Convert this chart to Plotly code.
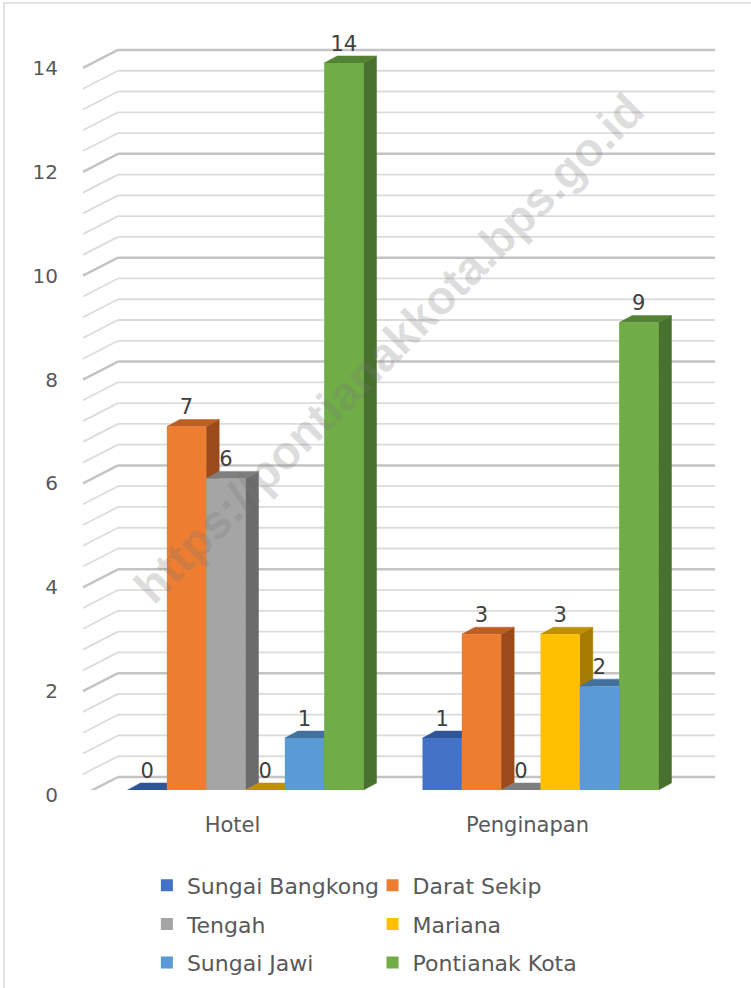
import plotly.graph_objects as go

# ---------------- data ----------------
categories = ["Hotel", "Penginapan"]
series_names = ["Sungai Bangkong", "Darat Sekip", "Tengah", "Mariana", "Sungai Jawi", "Pontianak Kota"]
sungai_bangkong = [0, 1]
darat_sekip = [7, 3]
tengah = [6, 0]
mariana = [0, 3]
sungai_jawi = [1, 2]
pontianak_kota = [14, 9]
series_values = [sungai_bangkong, darat_sekip, tengah, mariana, sungai_jawi, pontianak_kota]
y_ticks = [0, 2, 4, 6, 8, 10, 12, 14]
watermark = "https://pontianakkota.bps.go.id"

# ---------------- styles ----------------
front_colors = ["#4472C4", "#ED7D31", "#A5A5A5", "#FFC000", "#5B9BD5", "#70AD47"]
top_colors = ["#2F5597", "#BD5E22", "#7F7F7F", "#BF9000", "#41719C", "#548235"]
side_colors = ["#2B4D8C", "#9C4A1A", "#6B6B6B", "#A67C00", "#3A6792", "#48712D"]

W, H = 751, 988
ML, MR, MT, MB = 83, 71, 37, 198
PW = W - ML - MR
PH = H - MT - MB
X_RANGE = [-0.551, 1.473]
Y_RANGE = [0, 14.5]
PX_PER_X = PW / (X_RANGE[1] - X_RANGE[0])
PX_PER_Y = PH / (Y_RANGE[1] - Y_RANGE[0])
DX = 13 / PX_PER_X          # depth offset in x units
DY = 7 / PX_PER_Y           # depth offset in y units
BACK_DX = 35 / PW           # back wall shift (paper)
BACK_OFF = 13 / PX_PER_Y    # back wall vertical shift (y units)
FRONT_OFF = 5 / PX_PER_Y    # front floor edge shift (y units)

GROUP_W = 0.8
n = len(series_names)
bw = GROUP_W / n
xcat = list(range(len(categories)))

fig = go.Figure()

# side faces then top faces (base subplot, drawn below fronts)
for face in ("side", "top"):
    for i, vals in enumerate(series_values):
        for c, v in zip(xcat, vals):
            cx = c + (i - (n - 1) / 2) * bw
            xl, xr = cx - bw / 2, cx + bw / 2
            if face == "side":
                xs = [xr, xr + DX, xr + DX, xr, xr]
                ys = [0, DY, v + DY, v, 0]
                col = side_colors[i]
            else:
                xs = [xl, xl + DX, xr + DX, xr, xl]
                ys = [v, v + DY, v + DY, v, v]
                col = top_colors[i]
            fig.add_trace(go.Scatter(
                x=xs, y=ys, mode="lines", fill="toself", fillcolor=col,
                line=dict(width=0.5, color=col), hoverinfo="skip",
                showlegend=False, xaxis="x", yaxis="y"))

# front faces: real bars on overlay subplot
for i, (name, vals) in enumerate(zip(series_names, series_values)):
    fig.add_trace(go.Bar(
        x=xcat, y=vals, name=name, marker=dict(color=front_colors[i], line=dict(width=0)),
        xaxis="x2", yaxis="y2", legend="legend" if i % 2 == 0 else "legend2",
        legendgroup=name))

# value labels
for i, vals in enumerate(series_values):
    cxs = [c + (i - (n - 1) / 2) * bw for c in xcat]
    fig.add_trace(go.Scatter(
        x=cxs, y=[v + DY for v in vals], mode="text", text=[str(v) for v in vals],
        textposition="top center", textfont=dict(size=21, color="#404040", family="DejaVu Sans"),
        showlegend=False, hoverinfo="skip", cliponaxis=False, xaxis="x2", yaxis="y2"))

# gridlines on the back wall + diagonal floor/side edges
shapes = []
k = 0
while k * 0.4 <= 14 + 1e-9:
    v = k * 0.4
    major = (k % 5 == 0)
    col = "#C4C4C4" if major else "#DCDCDC"
    lw = 2.5 if major else 1.8
    shapes.append(dict(type="line", xref="paper", yref="y", x0=BACK_DX, x1=1 + BACK_DX,
                       y0=v + BACK_OFF, y1=v + BACK_OFF, line=dict(color=col, width=lw), layer="below"))
    shapes.append(dict(type="line", xref="paper", yref="y", x0=0, x1=BACK_DX,
                       y0=v - FRONT_OFF, y1=v + BACK_OFF, line=dict(color=col, width=lw), layer="below"))
    k += 1

# outer chart border
shapes.append(dict(type="rect", xref="paper", yref="paper",
                   x0=(4 - ML) / PW, x1=2, y0=-2, y1=(H - MB - 3) / PH,
                   line=dict(color="#D9D9D9", width=1.5), fillcolor="rgba(0,0,0,0)", layer="below"))

font_txt = dict(family="DejaVu Sans", size=22, color="#595959")

fig.update_layout(
    width=W, height=H,
    margin=dict(l=ML, r=MR, t=MT, b=MB, autoexpand=False),
    paper_bgcolor="white", plot_bgcolor="rgba(0,0,0,0)",
    barmode="group", bargap=0.2, bargroupgap=0,
    shapes=shapes,
    xaxis=dict(range=X_RANGE, tickvals=xcat, ticktext=categories, showgrid=False, zeroline=False,
               showline=False, ticks="outside", ticklen=0, ticklabelstandoff=16, ticklabelshift=-13,
               tickfont=dict(family="DejaVu Sans", size=21, color="#595959")),
    yaxis=dict(range=Y_RANGE, tickvals=y_ticks, showgrid=False, zeroline=False, showline=False,
               ticks="outside", ticklen=0, ticklabelstandoff=20, ticklabelshift=5,
               tickfont=dict(family="DejaVu Sans", size=20, color="#595959")),
    xaxis2=dict(range=X_RANGE, overlaying="x", visible=False),
    yaxis2=dict(range=Y_RANGE, overlaying="y", visible=False),
    legend=dict(x=0.107, y=-0.099, xanchor="left", yanchor="top", orientation="v",
                font=font_txt, tracegroupgap=7, bgcolor="rgba(0,0,0,0)"),
    legend2=dict(x=0.485, y=-0.099, xanchor="left", yanchor="top", orientation="v",
                 font=font_txt, tracegroupgap=7, bgcolor="rgba(0,0,0,0)"),
    annotations=[dict(text="<b>" + watermark + "</b>", xref="paper", yref="paper",
                      x=(388 - ML) / PW, y=(H - MB - 348) / PH, showarrow=False, textangle=-45,
                      font=dict(family="Liberation Sans", size=47, color="rgba(120,120,120,0.25)"),
                      xanchor="center", yanchor="middle")],
    showlegend=True,
)

fig.write_html("out.html", config={"displayModeBar": False},
               post_script="document.body.style.margin='0px';")
